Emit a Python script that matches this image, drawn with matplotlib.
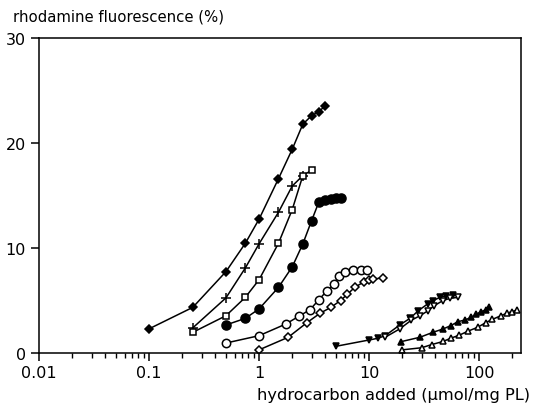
import matplotlib
matplotlib.use("Agg")
from matplotlib import pyplot as plt
from matplotlib.ticker import FixedLocator, FixedFormatter, NullFormatter

# hydrocarbon added (umol/mg PL) vs rhodamine fluorescence (%)
x_dia = [0.1, 0.25, 0.5, 0.75, 1.0, 1.5, 2.0, 2.5, 3.0, 3.5, 4.0]
y_dia = [2.3, 4.35, 7.75, 10.45, 12.75, 16.6, 19.4, 21.8, 22.6, 23.0, 23.55]

x_plus = [0.25, 0.5, 0.75, 1.0, 1.5, 2.0, 2.5]
y_plus = [2.4, 5.25, 8.1, 10.4, 13.4, 15.9, 16.9]

x_sq = [0.25, 0.5, 0.75, 1.0, 1.5, 2.0, 2.5, 3.0]
y_sq = [1.97, 3.55, 5.3, 6.98, 10.45, 13.65, 16.9, 17.4]

x_fcirc = [0.5, 0.75, 1.0, 1.5, 2.0, 2.5, 3.0, 3.5, 4.0, 4.5, 5.0, 5.5]
y_fcirc = [2.67, 3.3, 4.2, 6.25, 8.2, 10.4, 12.6, 14.4, 14.6, 14.7, 14.8, 14.8]

x_ocirc = [0.5, 1.0, 1.75, 2.3, 2.9, 3.5, 4.1, 4.8, 5.3, 6.1, 7.2, 8.4, 9.6]
y_ocirc = [0.95, 1.65, 2.76, 3.5, 4.12, 5.08, 5.88, 6.57, 7.3, 7.74, 7.9, 7.93, 7.93]

x_odia = [1.0, 1.84, 2.73, 3.6, 4.5, 5.5, 6.35, 7.4, 9.05, 9.9, 10.9, 13.4]
y_odia = [0.3, 1.5, 2.9, 3.8, 4.35, 5.0, 5.6, 6.25, 6.8, 7.0, 7.05, 7.15]

x_fdown = [5, 10, 12, 14, 19, 23.5, 28, 34, 38, 44, 50, 58]
y_fdown = [0.64, 1.24, 1.4, 1.65, 2.67, 3.3, 4.03, 4.67, 4.98, 5.3, 5.46, 5.52]

x_odown = [14, 19, 24, 29, 34, 39, 47, 54, 64]
y_odown = [1.5, 2.3, 3.1, 3.55, 4.0, 4.5, 5.0, 5.2, 5.3]

x_fup = [19.5, 29, 38, 47, 55, 64, 74, 85, 94, 104, 115, 123]
y_fup = [1.08, 1.5, 1.97, 2.29, 2.6, 2.98, 3.14, 3.4, 3.7, 3.93, 4.12, 4.35]

x_oup = [20, 30, 37, 47, 55, 66, 80, 97, 115, 132, 157, 180, 200, 222]
y_oup = [0.3, 0.5, 0.8, 1.1, 1.4, 1.7, 2.1, 2.45, 2.9, 3.2, 3.55, 3.8, 3.95, 4.1]

xticks = [0.01, 0.1, 1, 10, 100]
xticklabels = ["0.01", "0.1", "1", "10", "100"]
yticks = [0, 10, 20, 30]

plt.rcParams['font.family'] = ['DejaVu Sans']

fig = plt.figure(figsize=(5.34, 4.06), dpi=100)
ax = fig.add_axes([39/534, 52/406, 482/534, 315/406])

series = [
    (x_dia, y_dia, 'D', 'k', 4.0),
    (x_plus, y_plus, '+', 'k', 6.5),
    (x_sq, y_sq, 's', 'w', 5.0),
    (x_fcirc, y_fcirc, 'o', 'k', 6.5),
    (x_ocirc, y_ocirc, 'o', 'w', 6.0),
    (x_odia, y_odia, 'D', 'w', 3.8),
    (x_fdown, y_fdown, 'v', 'k', 5.0),
    (x_odown, y_odown, 'v', 'w', 5.0),
    (x_fup, y_fup, '^', 'k', 5.0),
    (x_oup, y_oup, '^', 'w', 4.6),
]
for xs, ys, m, fc, ms in series:
    ax.plot(xs, ys, color='k', lw=1.1, marker=m, ms=ms,
            mfc=fc, mec='k', mew=1.1)

ax.set_xscale('log')
ax.set_xlim(0.01, 240)
ax.set_ylim(0, 30)

ax.xaxis.set_major_locator(FixedLocator(xticks))
ax.xaxis.set_major_formatter(FixedFormatter(xticklabels))
ax.xaxis.set_minor_formatter(NullFormatter())
ax.set_yticks(yticks)

ax.tick_params(axis='both', which='major', direction='out', length=6,
               width=1.1, labelsize=11.5, colors='k')
ax.tick_params(axis='x', which='major', pad=3)
ax.tick_params(axis='x', which='minor', direction='out', length=3.5, width=1)
ax.tick_params(axis='y', which='minor', left=False)
for s in ax.spines.values():
    s.set_linewidth(1.1)

fig.text(13/534, 1 - 17/406, "rhodamine fluorescence (%)", fontsize=10.7,
         ha='left', va='center')
fig.text(530/534, 1 - 396/406, "hydrocarbon added (µmol/mg PL)", fontsize=11.7,
         ha='right', va='center')

fig.savefig("out.png", dpi=100)
